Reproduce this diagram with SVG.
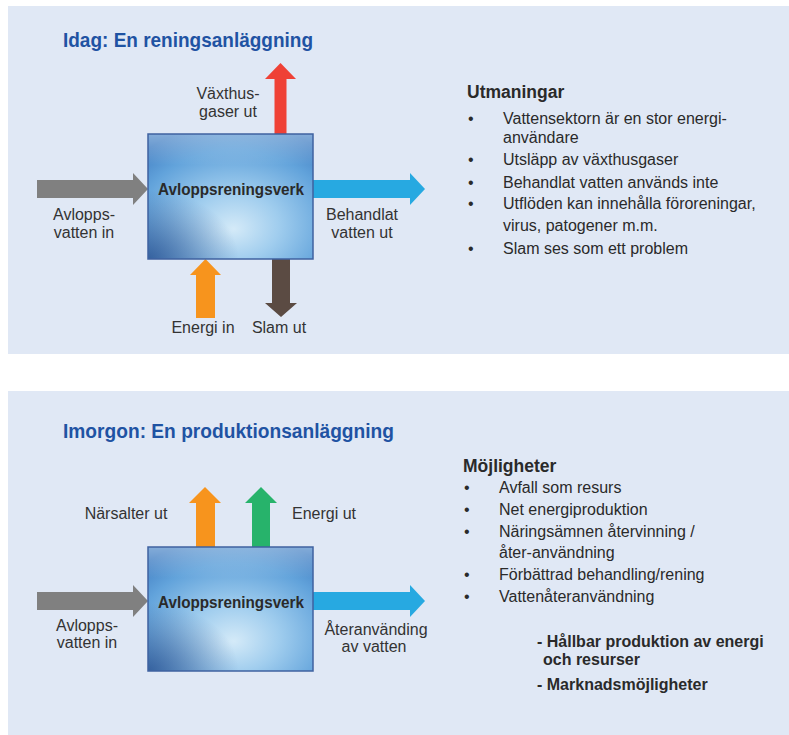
<svg xmlns="http://www.w3.org/2000/svg" width="789" height="735" viewBox="0 0 789 735">
<defs>
<radialGradient id="boxGrad" cx="0.52" cy="0.7" r="0.78" fx="0.52" fy="0.76">
<stop offset="0" stop-color="#d4eaf8"/>
<stop offset="0.35" stop-color="#a0cdee"/>
<stop offset="0.75" stop-color="#62a3db"/>
<stop offset="1" stop-color="#4380c4"/>
</radialGradient>
<linearGradient id="topHi" x1="0" y1="0" x2="0" y2="1">
<stop offset="0" stop-color="#ffffff" stop-opacity="0.35"/>
<stop offset="0.25" stop-color="#ffffff" stop-opacity="0"/>
</linearGradient>
<radialGradient id="corner" cx="0" cy="1" r="0.55">
<stop offset="0" stop-color="#1e3f7f" stop-opacity="0.65"/>
<stop offset="1" stop-color="#1e3f7f" stop-opacity="0"/>
</radialGradient>
</defs>
<style>
.panel{fill:#e0e8f5}
.title{font-family:"Liberation Sans",Arial,sans-serif;font-weight:bold;font-size:21px;fill:#1f53a3}
.lbl{font-family:"Liberation Sans",Arial,sans-serif;font-size:16px;fill:#333333}
.boxtxt{font-family:"Liberation Sans",Arial,sans-serif;font-weight:bold;font-size:16px;fill:#2a2a2a}
.body{font-family:"Liberation Sans",Arial,sans-serif;font-size:16px;fill:#2a2a2a}
.head{font-family:"Liberation Sans",Arial,sans-serif;font-weight:bold;font-size:17.5px;fill:#2a2a2a}
.bold{font-weight:bold}
.box{stroke:#3f62a0;stroke-width:1.5}
</style>

<rect class="panel" x="8" y="6" width="781" height="348"/>
<rect class="panel" x="8" y="391" width="781" height="344"/>

<text class="title" x="63" y="47" textLength="250" lengthAdjust="spacingAndGlyphs">Idag: En reningsanläggning</text>
<text class="title" x="63" y="438" textLength="331" lengthAdjust="spacingAndGlyphs">Imorgon: En produktionsanläggning</text>

<g id="connectors">
<polygon fill="#808080" points="37,180 133,180 133,173 148,189 133,205 133,198 37,198"/>
<polygon fill="#27a9e1" points="313,180 410,180 410,173 425,189 410,205 410,198 313,198"/>
<polygon fill="#ef4136" points="274.5,134 274.5,79 265,79 280.5,63 296,79 286.5,79 286.5,134"/>
<polygon fill="#f7941d" points="196,318 196,275 190,275 205.5,259 221,275 215,275 215,318"/>
<polygon fill="#5b4b43" points="272,259 272,303 265,303 281,317 297,303 290,303 290,259"/>

<polygon fill="#808080" points="37,592 133,592 133,585 148,601 133,617 133,610 37,610"/>
<polygon fill="#27a9e1" points="313,592 410,592 410,585 425,601 410,617 410,610 313,610"/>
<polygon fill="#f7941d" points="196,547 196,503 189,503 205,487 221,503 215,503 215,547"/>
<polygon fill="#27b36b" points="252,547 252,503 245,503 261,487 277,503 270,503 270,547"/>
</g>

<g id="plant1">
<rect x="148" y="134" width="165" height="125" fill="url(#boxGrad)"/>
<rect x="148" y="134" width="165" height="125" fill="url(#corner)"/>
<rect class="box" x="148" y="134" width="165" height="125" fill="url(#topHi)"/>
<text class="boxtxt" x="231" y="195" text-anchor="middle" textLength="146" lengthAdjust="spacingAndGlyphs">Avloppsreningsverk</text>
</g>

<g id="plant2">
<rect x="148" y="547" width="165" height="124" fill="url(#boxGrad)"/>
<rect x="148" y="547" width="165" height="124" fill="url(#corner)"/>
<rect class="box" x="148" y="547" width="165" height="124" fill="url(#topHi)"/>
<text class="boxtxt" x="231" y="608" text-anchor="middle" textLength="146" lengthAdjust="spacingAndGlyphs">Avloppsreningsverk</text>
</g>

<g id="labels1">
<text class="lbl" x="84" y="220" text-anchor="middle">Avlopps-</text>
<text class="lbl" x="84" y="238" text-anchor="middle">vatten in</text>
<text class="lbl" x="362" y="220" text-anchor="middle">Behandlat</text>
<text class="lbl" x="362" y="238" text-anchor="middle">vatten ut</text>
<text class="lbl" x="228" y="99" text-anchor="middle">Växthus-</text>
<text class="lbl" x="228" y="117" text-anchor="middle">gaser ut</text>
<text class="lbl" x="203" y="333" text-anchor="middle">Energi in</text>
<text class="lbl" x="279" y="333" text-anchor="middle">Slam ut</text>
</g>

<g id="labels2">
<text class="lbl" x="87" y="631" text-anchor="middle">Avlopps-</text>
<text class="lbl" x="87" y="648" text-anchor="middle">vatten in</text>
<text class="lbl" x="376" y="635" text-anchor="middle">Återanvänding</text>
<text class="lbl" x="374" y="652" text-anchor="middle">av vatten</text>
<text class="lbl" x="126" y="519" text-anchor="middle">Närsalter ut</text>
<text class="lbl" x="324" y="519" text-anchor="middle">Energi ut</text>
</g>

<g id="challenges">
<text class="head" x="467" y="98">Utmaningar</text>
<g class="body">
<text x="468" y="124">•</text><text x="503" y="124">Vattensektorn är en stor energi-</text>
<text x="503" y="143">användare</text>
<text x="468" y="165">•</text><text x="503" y="165">Utsläpp av växthusgaser</text>
<text x="468" y="188">•</text><text x="503" y="188">Behandlat vatten används inte</text>
<text x="468" y="209">•</text><text x="503" y="209">Utflöden kan innehålla föroreningar,</text>
<text x="503" y="231">virus, patogener m.m.</text>
<text x="468" y="254">•</text><text x="503" y="254">Slam ses som ett problem</text>
</g>
</g>

<g id="opportunities">
<text class="head" x="463" y="472">Möjligheter</text>
<g class="body">
<text x="464" y="493">•</text><text x="499" y="493">Avfall som resurs</text>
<text x="464" y="515">•</text><text x="499" y="515">Net energiproduktion</text>
<text x="464" y="537">•</text><text x="499" y="537">Näringsämnen återvinning /</text>
<text x="499" y="558">åter-användning</text>
<text x="464" y="580">•</text><text x="499" y="580">Förbättrad behandling/rening</text>
<text x="464" y="602">•</text><text x="499" y="602">Vattenåteranvändning</text>
</g>
<g class="body bold">
<text x="537" y="647">- Hållbar produktion av energi</text>
<text x="543" y="665">och resurser</text>
<text x="537" y="690">- Marknadsmöjligheter</text>
</g>
</g>
</svg>
